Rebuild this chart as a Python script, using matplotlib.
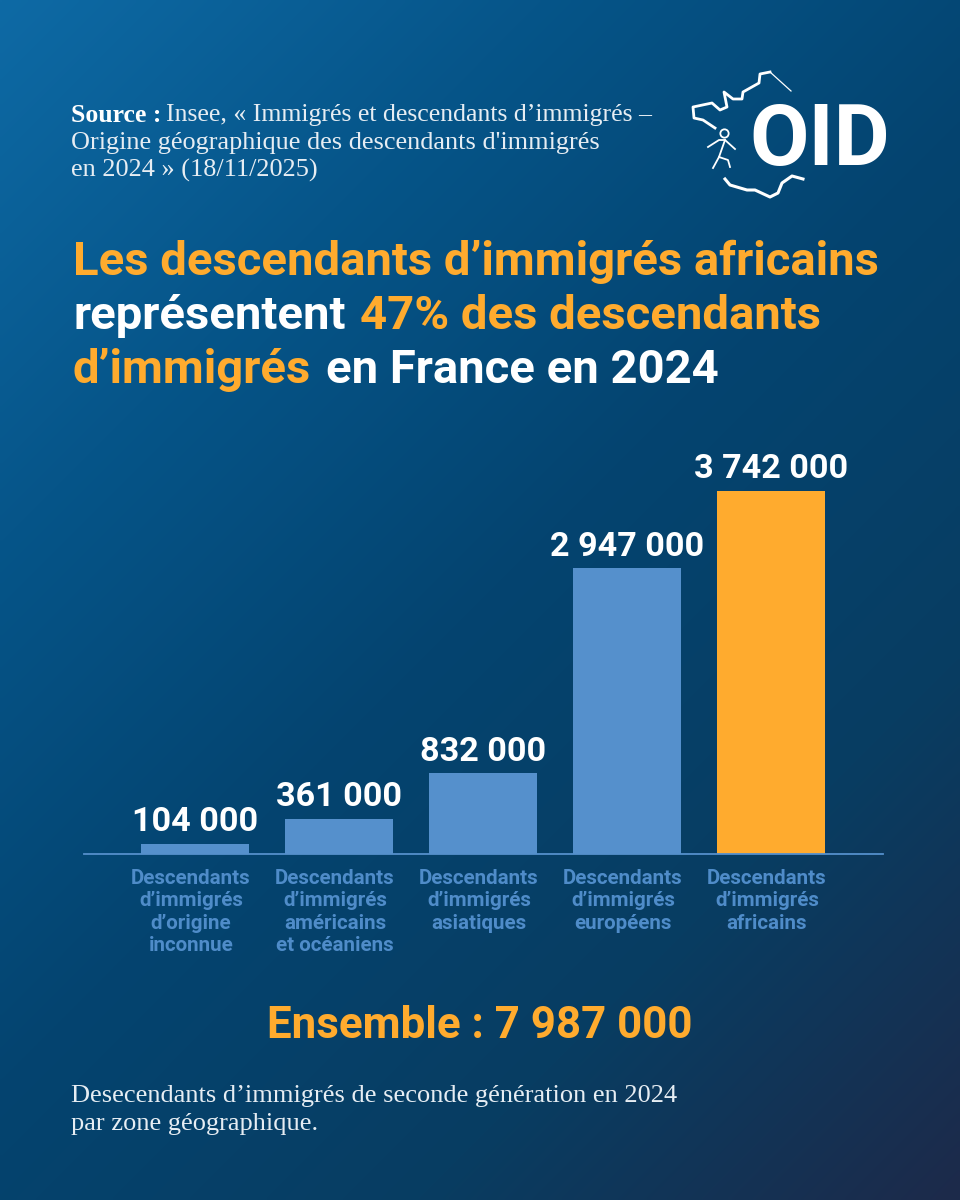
#!/usr/bin/env python3
import numpy as np
import matplotlib
matplotlib.use("Agg")
import matplotlib.pyplot as plt
from matplotlib.transforms import ScaledTranslation

# --- data ---
categories = [
    "Descendants\nd’immigrés\nd’origine\ninconnue",
    "Descendants\nd’immigrés\naméricains\net océaniens",
    "Descendants\nd’immigrés\nasiatiques",
    "Descendants\nd’immigrés\neuropéens",
    "Descendants\nd’immigrés\nafricains",
]
values = [104000, 361000, 832000, 2947000, 3742000]
value_labels = ["104 000", "361 000", "832 000", "2 947 000", "3 742 000"]

BLUE = "#5590cc"
ORANGE = "#ffab2e"
LABEL_BLUE = "#4f8cc9"
WHITE = "#ffffff"
bar_colors = [BLUE, BLUE, BLUE, BLUE, ORANGE]

W, H = 960, 1200
fig = plt.figure(figsize=(W / 100, H / 100), dpi=100)

# --- background gradient (diagonal) ---
bg = fig.add_axes([0, 0, 1, 1])
yy, xx = np.mgrid[0:1:300j, 0:1:240j]
t = (xx * 0.8 + yy * 1.0) / 1.8
stops = [0.0, 0.25, 0.5, 0.75, 1.0]
r = np.interp(t, stops, [14, 6, 4, 8, 29])
g = np.interp(t, stops, [106, 85, 68, 61, 42])
b = np.interp(t, stops, [165, 137, 112, 98, 74])
bg.imshow(np.dstack([r, g, b]) / 255, extent=[0, W, H, 0], aspect="auto", interpolation="bilinear")
bg.set_xlim(0, W)
bg.set_ylim(H, 0)
bg.axis("off")

fig.canvas.draw()
renderer = fig.canvas.get_renderer()

# --- source text ---
SERIF = "Liberation Serif"
SRC_SIZE = 18.9
TXT = "#e6edf3"
src = bg.text(71, 115, "Source :", color=WHITE, fontsize=SRC_SIZE - 0.4, family=SERIF, weight="bold", va="center")
bg.text(src.get_window_extent(renderer).x1 + 5, 115, "Insee, « Immigrés et descendants d’immigrés –", color=TXT, fontsize=SRC_SIZE - 0.4, family=SERIF, va="center")
bg.text(71, 143, "Origine géographique des descendants d'immigrés", color=TXT, fontsize=SRC_SIZE, family=SERIF, va="center")
bg.text(71, 170, "en 2024 » (18/11/2025)", color=TXT, fontsize=SRC_SIZE, family=SERIF, va="center")

# --- logo ---
bg.text(819.5, 141, "OID", color=WHITE, fontsize=62, family="Roboto", weight="bold", ha="center", va="center")
bg.plot([791, 770], [91, 72], color=WHITE, lw=0.9)
north_x = [770, 760, 759, 743, 742, 733, 724, 727, 720, 712, 693, 694, 703, 715]
north_y = [72, 74, 83, 92, 99, 99, 92, 107, 110, 103, 107, 118, 120, 128]
bg.plot(north_x, north_y, color=WHITE, lw=2.0, solid_joinstyle="round")
south_x = [725, 730, 747, 755, 770, 778, 782, 792, 803]
south_y = [179, 185, 190, 190, 197, 193, 183, 176, 179]
bg.plot(south_x, south_y, color=WHITE, lw=2.2, solid_joinstyle="round")
# runner
bg.plot([724], [133], "o", ms=6, mfc="none", mec=WHITE, mew=1.3)
bg.plot([708, 719, 725, 735], [147, 140, 140, 149], color=WHITE, lw=1.3)
bg.plot([725, 719, 728, 730], [140, 157, 160, 167], color=WHITE, lw=1.3)
bg.plot([719, 713], [157, 168], color=WHITE, lw=1.3)

# --- title, coloured runs on one line ---
TITLE_FONT = dict(fontsize=34, family="Roboto", weight="bold", va="center")
title_lines = [
    (262, [("Les descendants d’immigrés africains", ORANGE)]),
    (316, [("représentent ", WHITE), ("47% des descendants", ORANGE)]),
    (370, [("d’immigrés ", ORANGE), ("en France en 2024", WHITE)]),
]
for ypos, runs in title_lines:
    xpos = 73
    for txt, col in runs:
        tt = bg.text(xpos, ypos, txt.rstrip(), color=col, **TITLE_FONT)
        ext = tt.get_window_extent(renderer)
        xpos = ext.x1 + (15 if txt.endswith(" ") else 0)

# --- bar chart ---
ax = fig.add_axes([84 / W, 1 - 854 / H, (883 - 84) / W, 420 / H])
ax.patch.set_alpha(0)
x = np.arange(len(values))
ax.bar(x, values, width=0.75, color=bar_colors, linewidth=0)
ax.set_xlim(-0.771, 4.778)
ax.set_ylim(0, 420 / 97e-6)
for s in ["top", "left", "right"]:
    ax.spines[s].set_visible(False)
ax.spines["bottom"].set_color(BLUE)
ax.spines["bottom"].set_linewidth(1.3)
ax.set_yticks([])
ax.set_xticks(x)
ax.set_xticklabels(categories, color=LABEL_BLUE, fontsize=14.8, family="Roboto", weight="bold", linespacing=1.21, va="top")
ax.tick_params(axis="x", length=0, pad=11)
# category labels sit a little left of their bars
shift = ScaledTranslation(-4 / 100, 0, fig.dpi_scale_trans)
for lab in ax.get_xticklabels():
    lab.set_transform(lab.get_transform() + shift)
for xi, v, lab in zip(x, values, value_labels):
    ax.annotate(lab, (xi, v), xytext=(0, 4), textcoords="offset points", ha="center", va="bottom",
                color=WHITE, fontsize=24.6, family="Roboto", weight="bold")

# --- total and note ---
bg.text(480, 1026, "Ensemble : 7 987 000", color=ORANGE, fontsize=31.6, family="Roboto", weight="bold", ha="center", va="center")
bg.text(71, 1096, "Desecendants d’immigrés de seconde génération en 2024", color=TXT, fontsize=19, family=SERIF, va="center")
bg.text(71, 1124, "par zone géographique.", color=TXT, fontsize=19, family=SERIF, va="center")

fig.savefig("out.png", dpi=100)
